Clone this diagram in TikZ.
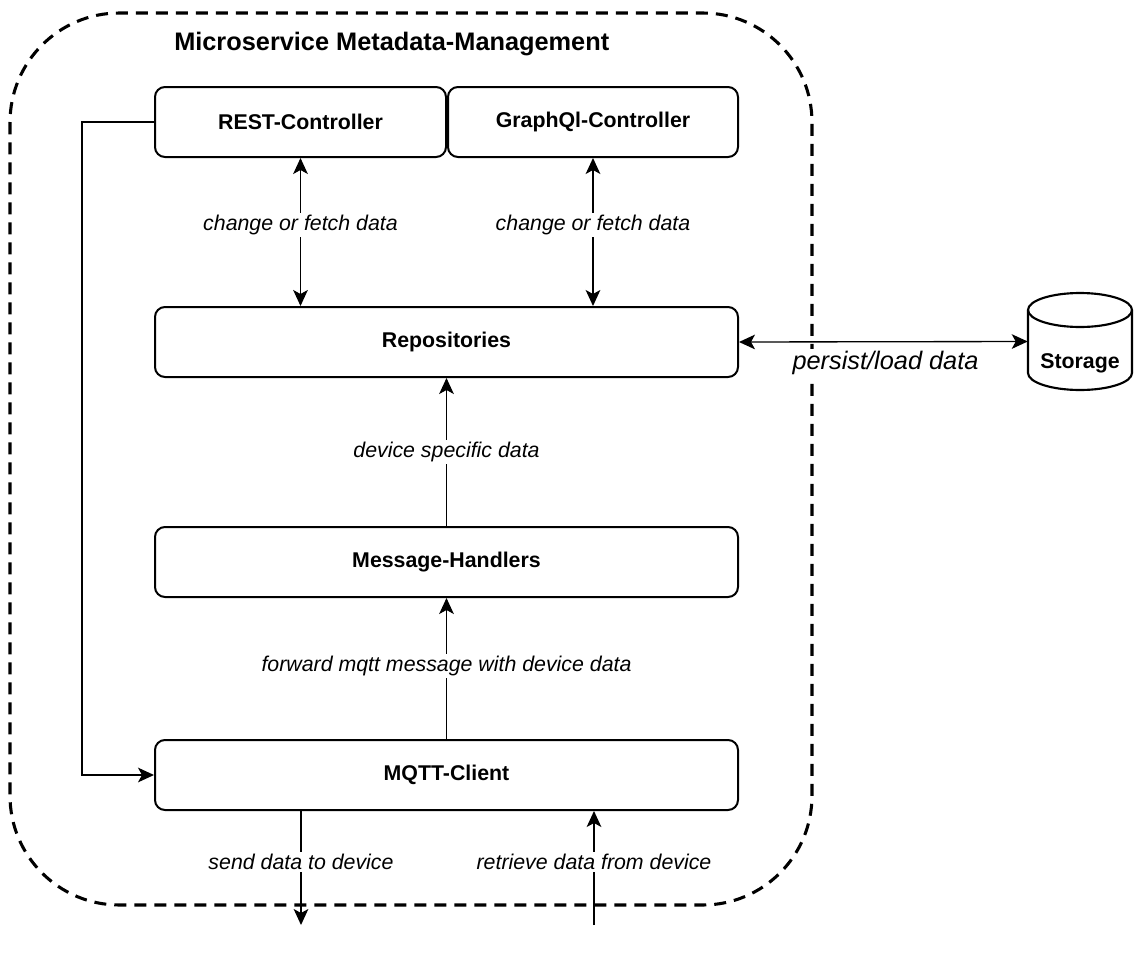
\documentclass[tikz,border=0pt]{standalone}
\usepackage{fontspec}
\setmainfont{Liberation Sans}
\usetikzlibrary{arrows.meta}
\tikzset{
  headtip/.tip={Stealth[length=12pt,width=11pt,inset=3pt]}
}
\begin{document}
\begin{tikzpicture}[
  x=0.75pt, y=-0.75pt,
  block/.style={draw, line width=1.5pt, rounded corners=7.5pt, fill=white,
    font=\bfseries\fontsize{16}{19}\selectfont, minimum height=52.5pt, inner sep=0pt},
  frame/.style={draw, line width=2.3pt, dash pattern=on 9pt off 6pt, rounded corners=82pt},
  conn/.style={line width=1pt},
  onehead/.style={conn, -headtip},
  twoheads/.style={conn, headtip-headtip},
  lbl/.style={fill=white, font=\itshape\fontsize{16}{19}\selectfont, inner sep=1.5pt},
  biglbl/.style={fill=white, font=\itshape\fontsize{19}{23}\selectfont, inner sep=1.5pt},
  cyl/.style={draw, line width=1.6pt, fill=white}
]
\useasboundingbox (0,0) rectangle (1139,960);

% service boundary
\draw[frame] (10,13) rectangle (812,905);
\node[anchor=west, font=\bfseries\fontsize{19}{23}\selectfont, inner sep=0pt] (title) at (174,44) {Microservice Metadata-Management};

% components
\node[block, minimum width=218.25pt] (rest) at (300.5,122) {REST-Controller};
\node[block, minimum width=217.5pt]  (gql)  at (593,122)   {GraphQl-Controller};
\node[block, minimum width=437.25pt] (repo) at (446.5,342) {Repositories};
\node[block, minimum width=437.25pt] (mh)   at (446.5,562) {Message-Handlers};
\node[block, minimum width=437.25pt] (mqtt) at (446.5,775) {MQTT-Client};

% storage cylinder
\node[minimum width=78pt, minimum height=72.75pt, inner sep=0pt] (storage) at (1080,341.5) {};
\draw[cyl] (1028,310) arc (180:0:39pt and 12.75pt) -- (1132,373)
  arc (0:-180:39pt and 12.75pt) -- cycle;
\draw[line width=1.6pt] (1028,310) arc (180:360:39pt and 12.75pt);
\node[font=\bfseries\fontsize{16}{19}\selectfont] (storagetxt) at (1080,363) {Storage};

% free ends below the service
\coordinate (out) at (301,925);
\coordinate (in)  at (594,925);

% connectors
\draw[twoheads] (rest.south) -- node[lbl, pos=0.45] {change or fetch data} (rest.south |- repo.north);
\draw[twoheads] (gql.south) -- node[lbl, pos=0.45] {change or fetch data} (gql.south |- repo.north);
\draw[onehead] (mh.north) -- node[lbl, pos=0.5] {device specific data} (repo.south);
\draw[onehead] (mqtt.north) -- node[lbl, pos=0.52] {forward mqtt message with device data} (mh.south);
\draw[onehead] (rest.west) -- ++(-72,0) |- (mqtt.west);
\draw[onehead] (mqtt.south -| out) -- node[lbl, pos=0.45] {send data to device} (out);
\draw[onehead] (in) -- node[lbl, pos=0.55] {retrieve data from device} (mqtt.south -| in);
\draw[twoheads] (repo.east) -- (storage.west);
\node[biglbl] (persist) at (885.5,363) {persist/load data};
\end{tikzpicture}
\end{document}
